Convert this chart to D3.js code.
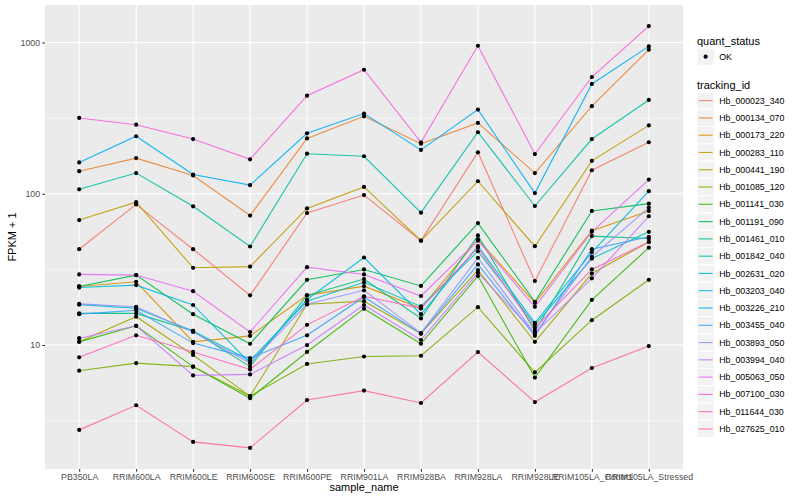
<!DOCTYPE html>
<html>
<head>
<meta charset="utf-8">
<script src="https://cdn.jsdelivr.net/npm/d3@7/dist/d3.min.js"></script>
<style>
  html, body { margin: 0; padding: 0; background: #ffffff; }
  svg { display: block; font-family: "Liberation Sans", Arial, Helvetica, sans-serif; }
</style>
</head>
<body>
<svg id="chart" width="800" height="500"></svg>
<script>
// ---------------- data ----------------
const samples = ["PB350LA","RRIM600LA","RRIM600LE","RRIM600SE","RRIM600PE","RRIM901LA","RRIM928BA","RRIM928LA","RRIM928LE","RRIM105LA_Control","RRIM105LA_Stressed"];

const trackingIds = ["Hb_000023_340","Hb_000134_070","Hb_000173_220","Hb_000283_110","Hb_000441_190","Hb_001085_120","Hb_001141_030","Hb_001191_090","Hb_001461_010","Hb_001842_040","Hb_002631_020","Hb_003203_040","Hb_003226_210","Hb_003455_040","Hb_003893_050","Hb_003994_040","Hb_005063_050","Hb_007100_030","Hb_011644_030","Hb_027625_010"];

const seriesColors = ["#F8766D","#EA8331","#D89000","#C09B00","#A3A500","#7CAE00","#39B600","#00BB4E","#00BF7D","#00C1A3","#00BFC4","#00BAE0","#00B0F6","#35A2FF","#9590FF","#C77CFF","#E76BF3","#FA62DB","#FF62BC","#FF6C91"];

// FPKM + 1 per sample (order of samples)
const Hb_000023_340 = [43, 85, 43, 21.3, 74.6, 98, 49, 188, 26.5, 143, 219];
const Hb_000134_070 = [141, 172, 132, 71.8, 232, 325, 214, 294, 137, 379, 896];
const Hb_000173_220 = [24.4, 26.2, 10.5, 11.5, 21.3, 24.5, 17.5, 50, 19, 57, 77];
const Hb_000283_110 = [67, 88, 32.4, 33, 80, 111, 49, 121, 45, 165, 283];
const Hb_000441_190 = [10.5, 15.4, 8.6, 4.6, 18.6, 19.5, 11.9, 31.3, 10.5, 29.7, 48];
const Hb_001085_120 = [6.77, 7.6, 7.2, 4.6, 7.5, 8.4, 8.5, 17.8, 6.6, 14.6, 27];
const Hb_001141_030 = [10.5, 13.4, 7.2, 4.45, 9, 17.4, 10.2, 28.6, 6.1, 19.9, 44];
const Hb_001191_090 = [24.4, 29, 16, 10.2, 27, 31.6, 24.6, 64, 19.3, 77, 86];
const Hb_001461_010 = [16.2, 16.2, 12.4, 7.2, 21.3, 27.3, 15, 53, 12.4, 52.5, 50.6];
const Hb_001842_040 = [107, 137, 82.6, 44.8, 184, 177, 75, 255, 83, 230, 417];
const Hb_002631_020 = [18.5, 17.5, 12.4, 7.9, 19.5, 26, 18, 41.7, 13.6, 37.3, 56];
const Hb_003203_040 = [24, 24.9, 18.4, 7.6, 20, 37.9, 16, 45, 14, 41, 104];
const Hb_003226_210 = [161, 240, 134, 114, 251, 339, 195, 360, 101, 532, 942];
const Hb_003455_040 = [16, 17, 10.3, 8.2, 11.6, 20.8, 11.9, 34.1, 11.5, 43, 52];
const Hb_003893_050 = [18.7, 17.9, 12.2, 7.6, 18.6, 23, 12, 37.7, 11.9, 38.3, 81];
const Hb_003994_040 = [11.1, 13.4, 6.3, 6.4, 10, 18.4, 10.8, 30, 12, 27.6, 71];
const Hb_005063_050 = [29.3, 29, 22.7, 12.2, 32.7, 29.3, 21.1, 49, 17.9, 56, 124];
const Hb_007100_030 = [317, 286, 230, 169, 445, 660, 219, 951, 183, 591, 1283];
const Hb_011644_030 = [8.3, 11.6, 9.0, 6.9, 13.6, 21, 17.5, 44, 13, 31.6, 48];
const Hb_027625_010 = [2.75, 4.0, 2.29, 2.09, 4.33, 5.0, 4.14, 8.99, 4.2, 7.05, 9.85];

const yMajorTicks = [10, 100, 1000];
const yMinorTicks = [Math.sqrt(10), Math.sqrt(1000), Math.sqrt(100000)];
const quantStatus = ["OK"];

const seriesValues = [Hb_000023_340, Hb_000134_070, Hb_000173_220, Hb_000283_110, Hb_000441_190,
  Hb_001085_120, Hb_001141_030, Hb_001191_090, Hb_001461_010, Hb_001842_040, Hb_002631_020,
  Hb_003203_040, Hb_003226_210, Hb_003455_040, Hb_003893_050, Hb_003994_040, Hb_005063_050,
  Hb_007100_030, Hb_011644_030, Hb_027625_010];

const series = trackingIds.map((id, i) => ({
  id, color: seriesColors[i],
  points: samples.map((s, j) => ({ sample: s, value: seriesValues[i][j] }))
}));

// ---------------- layout ----------------
const svg = d3.select("#chart");
const panel = { left: 45, right: 683, top: 5, bottom: 469 };

const x = d3.scalePoint().domain(samples).range([panel.left, panel.right]).padding(0.6);

const allVals = seriesValues.flat();
const lmin = Math.log10(d3.min(allVals)), lmax = Math.log10(d3.max(allVals));
const expand = (lmax - lmin) * 0.05;
const y = d3.scaleLog()
  .domain([Math.pow(10, lmin - expand), Math.pow(10, lmax + expand)])
  .range([panel.bottom, panel.top]);

// panel background
svg.append("rect")
  .attr("x", panel.left).attr("y", panel.top)
  .attr("width", panel.right - panel.left).attr("height", panel.bottom - panel.top)
  .attr("fill", "#EBEBEB");

const grid = svg.append("g");
grid.selectAll("line.minor").data(yMinorTicks).enter().append("line")
  .attr("x1", panel.left).attr("x2", panel.right)
  .attr("y1", d => y(d)).attr("y2", d => y(d))
  .attr("stroke", "#ffffff").attr("stroke-width", 0.55);
grid.selectAll("line.majory").data(yMajorTicks).enter().append("line")
  .attr("x1", panel.left).attr("x2", panel.right)
  .attr("y1", d => y(d)).attr("y2", d => y(d))
  .attr("stroke", "#ffffff").attr("stroke-width", 1.1);
grid.selectAll("line.majorx").data(samples).enter().append("line")
  .attr("y1", panel.top).attr("y2", panel.bottom)
  .attr("x1", d => x(d)).attr("x2", d => x(d))
  .attr("stroke", "#ffffff").attr("stroke-width", 1.1);

// lines
const line = d3.line().x(d => x(d.sample)).y(d => y(d.value));
svg.append("g").selectAll("path").data(series).enter().append("path")
  .attr("d", d => line(d.points))
  .attr("fill", "none")
  .attr("stroke", d => d.color)
  .attr("stroke-width", 1.1)
  .attr("stroke-opacity", 0.9);

// points
svg.append("g").selectAll("g").data(series).enter().append("g")
  .selectAll("circle").data(d => d.points).enter().append("circle")
  .attr("cx", d => x(d.sample)).attr("cy", d => y(d.value))
  .attr("r", 2.1).attr("fill", "#000000");

// axes
const xAxis = d3.axisBottom(x).tickSize(2.75).tickPadding(2.5);
const gx = svg.append("g").attr("transform", `translate(0,${panel.bottom})`).call(xAxis);
gx.select(".domain").remove();
gx.selectAll(".tick line").attr("stroke", "#333333").attr("stroke-width", 1.07);
gx.selectAll(".tick text").attr("fill", "#4D4D4D").attr("font-size", "8.8px")
  .attr("font-family", "Liberation Sans, Arial, sans-serif");

const yAxis = d3.axisLeft(y).tickValues(yMajorTicks).tickFormat(d3.format("d")).tickSize(2.75).tickPadding(2.2);
const gy = svg.append("g").attr("transform", `translate(${panel.left},0)`).call(yAxis);
gy.select(".domain").remove();
gy.selectAll(".tick line").attr("stroke", "#333333").attr("stroke-width", 1.07);
gy.selectAll(".tick text").attr("fill", "#4D4D4D").attr("font-size", "8.8px")
  .attr("font-family", "Liberation Sans, Arial, sans-serif");

// axis titles
svg.append("text").attr("x", (panel.left + panel.right) / 2).attr("y", 491)
  .attr("text-anchor", "middle").attr("font-size", "11px").attr("fill", "#000")
  .text("sample_name");
svg.append("text")
  .attr("transform", `translate(16,${(panel.top + panel.bottom) / 2}) rotate(-90)`)
  .attr("text-anchor", "middle").attr("font-size", "11px").attr("fill", "#000")
  .text("FPKM + 1");

// legends
const lg = svg.append("g");
const keySize = 17.28, legX = 697;
lg.append("text").attr("x", legX).attr("y", 44.5).attr("font-size", "11px").text("quant_status");
const qs = lg.selectAll("g.qs").data(quantStatus).enter().append("g")
  .attr("transform", (d, i) => `translate(${legX},${48 + i * keySize})`);
qs.append("rect").attr("width", keySize).attr("height", keySize)
  .attr("fill", "#F2F2F2").attr("stroke", "#ffffff").attr("stroke-width", 1);
qs.append("circle").attr("cx", keySize / 2).attr("cy", keySize / 2).attr("r", 2.1).attr("fill", "#000");
qs.append("text").attr("x", keySize + 5).attr("y", keySize / 2 + 3.1).attr("font-size", "8.8px").text(d => d);

lg.append("text").attr("x", legX).attr("y", 88.5).attr("font-size", "11px").text("tracking_id");
const tk = lg.selectAll("g.tk").data(series).enter().append("g")
  .attr("transform", (d, i) => `translate(${legX},${92 + i * keySize})`);
tk.append("rect").attr("width", keySize).attr("height", keySize)
  .attr("fill", "#F2F2F2").attr("stroke", "#ffffff").attr("stroke-width", 1);
tk.append("line").attr("x1", 1.7).attr("x2", keySize - 1.7)
  .attr("y1", keySize / 2).attr("y2", keySize / 2)
  .attr("stroke", d => d.color).attr("stroke-width", 1.1).attr("stroke-opacity", 0.9);
tk.append("text").attr("x", keySize + 5).attr("y", keySize / 2 + 3.1).attr("font-size", "8.8px").text(d => d.id);
</script>
</body>
</html>
